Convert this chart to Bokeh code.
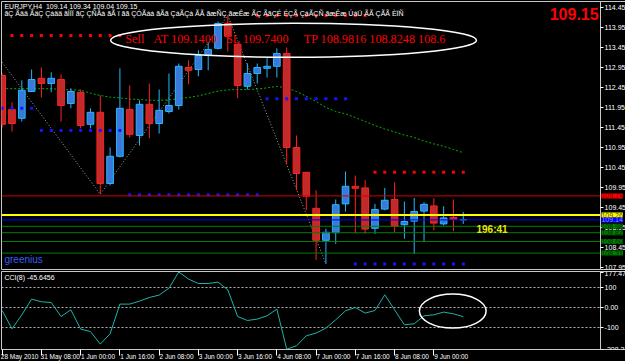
from bokeh.plotting import figure
from bokeh.models import Range1d, FixedTicker, Label, ColumnDataSource, GlobalInlineStyleSheet
from bokeh.layouts import column
from bokeh.embed import file_html
from bokeh.resources import INLINE

# ---------------- data ----------------
bars = list(range(48))
opens = [112.75, 111.90, 111.68, 112.35, 112.68, 112.55, 112.65, 112.05, 112.33, 111.53,
         111.83, 110.05, 110.73, 111.90, 111.25, 112.03, 111.55, 111.85, 112.00, 112.95,
         112.90, 113.25, 113.43, 114.05, 113.53, 112.48, 112.80, 112.93, 112.98, 113.30,
         110.95, 110.33, 109.43, 108.63, 108.82, 109.54, 109.98, 109.94, 108.93, 109.41,
         109.65, 109.02, 109.11, 109.36, 109.49, 109.04, 109.20, 109.14]
highs = [112.80, 112.08, 112.63, 112.90, 112.95, 112.83, 112.78, 112.43, 112.40, 111.93,
         112.25, 110.95, 112.93, 112.50, 112.13, 112.55, 112.40, 112.80, 113.05, 113.13,
         113.38, 113.58, 114.10, 114.25, 113.55, 113.05, 113.05, 113.18, 113.43, 113.45,
         111.25, 110.33, 109.88, 108.92, 109.65, 110.35, 110.25, 110.14, 109.54, 109.94,
         110.08, 109.60, 109.69, 109.58, 109.68, 109.48, 109.65, 109.34]
lows = [111.45, 111.35, 111.60, 112.35, 112.20, 112.33, 111.60, 111.93, 111.43, 111.43,
        109.78, 110.00, 110.70, 111.20, 111.00, 111.18, 111.30, 111.80, 111.90, 112.53,
        112.73, 112.88, 113.40, 113.35, 112.18, 112.40, 112.55, 112.70, 112.70, 110.53,
        109.88, 109.38, 108.14, 108.04, 108.54, 109.35, 108.80, 108.79, 108.79, 109.38,
        108.83, 108.67, 108.29, 108.58, 108.88, 109.00, 108.86, 109.04]
closes = [111.53, 111.55, 112.38, 112.65, 112.55, 112.68, 112.00, 112.35, 111.50, 111.83,
          110.05, 110.73, 111.93, 111.28, 112.03, 111.55, 111.88, 112.00, 112.98, 112.88,
          113.25, 113.40, 114.05, 113.73, 112.50, 112.80, 112.95, 112.98, 113.30, 110.95,
          110.30, 109.73, 108.63, 108.83, 109.52, 109.98, 109.93, 108.91, 109.40, 109.63,
          108.98, 109.10, 109.35, 109.53, 109.06, 109.19, 109.15, 109.15]
ma = [112.42, 112.42, 112.42, 112.42, 112.42, 112.42, 112.40, 112.39, 112.38, 112.31,
      112.25, 112.21, 112.19, 112.16, 112.15, 112.13, 112.13, 112.14, 112.17, 112.20,
      112.24, 112.30, 112.36, 112.39, 112.40, 112.40, 112.41, 112.44, 112.48, 112.44,
      112.35, 112.23, 112.10, 111.95, 111.85, 111.79, 111.70, 111.60, 111.50, 111.41,
      111.34, 111.26, 111.20, 111.11, 111.04, 110.98, 110.90, 110.82]
cci = [-15, -106.5, -36.5, 42, 28.5, 25, -45, -11.5, -108, -120,
       -183, -131.5, 17, 17, 32, 50, 62, 97, 177.47, 142,
       120, 120, 127, 88.5, -45, -65, -58, -41.5, -8, -208.32,
       -191.5, -141.5, -128, -103, -61.5, -16.5, 0, -28, -15, 63.5,
       -11.5, -86.5, -81.5, -41.5, -36.5, -23, -31.5, -45.65]

zigzag_bars = [0, 10, 23, 33]
zigzag_prices = [113.08, 109.78, 114.25, 108.04]

red_dot_groups = [(1, 12, 113.75), (26, 37, 114.25), (38, 47, 110.33)]
blue_dot_groups = [(0, 3, 111.93), (4, 12, 111.375), (13, 26, 109.77), (27, 35, 112.17), (36, 47, 108.04)]

level_prices = [109.74, 109.26, 109.14, 108.98, 108.82, 108.60, 108.31]
level_colors = ["#d00000", "#ffff00", "#0000ff", "#008000", "#008000", "#008000", "#008000"]
level_widths = [1, 2, 1, 1, 1, 1, 1]
level_box_text = ["#700000", "#505000", "#9090ff", "#002800", "#002800", "#002800", "#002800"]
level_box_fill = ["#ff0000", "#ffff00", "#0000ff", "#008000", "#008000", "#008000", "#008000"]

price_ticks = [107.95, 108.45, 108.95, 109.45, 109.95, 110.45, 110.95, 111.45, 111.95,
               112.45, 112.95, 113.45, 113.95, 114.45]
cci_ticks = [177.4727, 100, 0, -100, -208.319]
cci_tick_labels = ["177.4727", "100", "0.00", "-100", "-208.319"]
cci_levels = [100, 0, -100]
time_ticks = [0, 4, 8, 12, 16, 20, 24, 28, 32, 36, 40, 44]
time_labels = ["28 May 2010", "31 May 08:00", "1 Jun 00:00", "1 Jun 16:00", "2 Jun 08:00",
               "3 Jun 00:00", "3 Jun 16:00", "4 Jun 08:00", "7 Jun 00:00", "7 Jun 16:00",
               "8 Jun 08:00", "9 Jun 00:00"]

# ---------------- geometry helpers ----------------
FONT = "Liberation Sans"
X0 = -0.07            # left frame edge in bar units
BAR_PX = 9.81         # pixels per bar
FRAME_W = 625
X1 = X0 + FRAME_W / BAR_PX
AXIS_X = 61.0         # where the price scale sits (bar units)


def style_axis(a):
    a.axis_line_color = "#c8c8c8"
    a.major_tick_line_color = "white"
    a.major_tick_in = 0
    a.minor_tick_line_color = None
    a.major_label_text_color = "white"
    a.major_label_text_font_size = "7px"
    a.major_label_text_font = FONT


# ---------------- price panel ----------------
p = figure(frame_width=FRAME_W, frame_height=268, output_backend="svg", toolbar_location=None,
           x_range=Range1d(X0, X1), y_range=Range1d(107.9, 114.6),
           x_axis_location=None, y_axis_location="right",
           min_border_left=1, min_border_top=1, min_border_bottom=1, min_border_right=0,
           background_fill_color="black", border_fill_color="black",
           outline_line_color="#c8c8c8")
p.grid.visible = False
ax = p.yaxis[0]
style_axis(ax)
ax.fixed_location = AXIS_X
ax.ticker = FixedTicker(ticks=price_ticks)
ax.major_label_overrides = {t: f"{t:.2f}" for t in price_ticks}
ax.major_tick_out = 3
ax.major_label_standoff = 1

# moving average and zigzag
p.line(bars, ma, line_color="#00b000", line_dash="2 2", line_width=1)
p.line(zigzag_bars, zigzag_prices, line_color="#a0a0a0", line_dash="1 2", line_width=1)

# candles
bull = [i for i in bars if closes[i] >= opens[i]]
bear = [i for i in bars if closes[i] < opens[i]]
for idx, fill, edge in ((bull, "#3a78dc", "#22b8ff"), (bear, "#c02a2a", "#ff2020")):
    src = ColumnDataSource(dict(
        x=[bars[i] for i in idx],
        hi=[highs[i] for i in idx], lo=[lows[i] for i in idx],
        top=[max(opens[i], closes[i]) for i in idx],
        bot=[min(opens[i], closes[i]) for i in idx]))
    p.segment(x0="x", y0="hi", x1="x", y1="lo", source=src, line_color=edge, line_width=1)
    p.vbar(x="x", top="top", bottom="bot", width=0.68, source=src,
           fill_color=fill, line_color=edge, line_width=1)

# dots
for s, e, lvl in red_dot_groups:
    xs = list(range(s, e + 1))
    p.scatter(xs, [lvl] * len(xs), marker="square", size=3, fill_color="#ff0000", line_color=None)
for s, e, lvl in blue_dot_groups:
    xs = list(range(s, e + 1))
    p.scatter(xs, [lvl] * len(xs), marker="square", size=3, fill_color="#1414ff", line_color=None)

# horizontal levels (up to the price scale) and their price tags
n = len(level_prices)
p.segment(x0=[X0] * n, x1=[AXIS_X] * n, y0=level_prices, y1=level_prices,
          line_color=level_colors, line_width=level_widths)
for lvl, bf, tc in zip(level_prices, level_box_fill, level_box_text):
    p.add_layout(Label(x=AXIS_X + 0.09, y=lvl, text=f"{lvl:.2f}", text_font_size="7px", text_font=FONT,
                       text_color=tc, text_baseline="middle", background_fill_color=bf))

# ellipse & texts
p.ellipse(x=[29.7], y=[113.63], width=37.3, height=0.85, fill_alpha=0,
          line_color="white", line_width=1.5)
NB = "\u00a0"
sell_text = ("Sell" + NB * 3 + "AT 109.1400" + NB * 3 + "SL 109.7400" + NB * 5 +
             "TP 108.9816 108.8248 108.6")
p.add_layout(Label(x=12.55, y=113.66, text=sell_text,
                   text_font="Liberation Serif", text_font_size="12.2px", text_color="#ff0000",
                   text_baseline="middle"))
p.add_layout(Label(x=0.23, y=114.47, text="EURJPY,H4  109.14 109.34 109.04 109.15".replace("  ", NB * 2),
                   text_font=FONT, text_font_size="7px", text_color="white", text_baseline="middle"))
p.add_layout(Label(x=0.23, y=114.30,
                   text="ãÇ Ãää ÃäÇ Çáää ãÌÏÏ ãÇ ÇÑÅá ãÃ ï ãã ÇÓÃáá ãÃã ÇáÃÇá ÃÃ ãæÑÇ ãæÊæ ÃÇ ÃãÇÉ ÉÇÃ ÇáÃÇÑ ãæÊæ ÚáÜ ÃÃ ÇÃÃ ÈÏÑ",
                   text_font=FONT, text_font_size="7px", text_color="white", text_baseline="middle"))
p.add_layout(Label(x=60.8, y=114.28, text="109.15", text_font=FONT, text_font_size="16px",
                   text_font_style="bold", text_color="#ff0000", text_align="right",
                   text_baseline="middle"))
p.add_layout(Label(x=48.35, y=108.9, text="196:41", text_font=FONT, text_font_size="10px",
                   text_font_style="bold", text_color="#e8e800", text_baseline="middle"))
p.add_layout(Label(x=0.23, y=108.15, text="greenius", text_font=FONT, text_font_size="10px",
                   text_color="#3a5cf0", text_baseline="middle"))

# ---------------- CCI panel ----------------
q = figure(frame_width=FRAME_W, frame_height=78, output_backend="svg", toolbar_location=None,
           x_range=p.x_range, y_range=Range1d(-210, 180),
           x_axis_location="below", y_axis_location="right",
           min_border_left=1, min_border_top=1, min_border_bottom=0, min_border_right=0,
           background_fill_color="black", border_fill_color="black",
           outline_line_color="#c8c8c8")
q.grid.visible = False
ay = q.yaxis[0]
style_axis(ay)
ay.fixed_location = AXIS_X
ay.ticker = FixedTicker(ticks=cci_ticks)
ay.major_label_overrides = dict(zip(cci_ticks, cci_tick_labels))
ay.major_tick_out = 3
ay.major_label_standoff = 1

# time axis: labels start at their tick (MT4 style) -> label centres shifted right,
# tick marks drawn as minor ticks exactly at the bars
bx = q.xaxis[0]
style_axis(bx)
bx.major_label_text_font_size = "6.5px"
label_pos = [t + (len(lab) * 1.4 + 2) / BAR_PX for t, lab in zip(time_ticks, time_labels)]
bx.ticker = FixedTicker(ticks=label_pos, minor_ticks=time_ticks)
bx.major_label_overrides = dict(zip(label_pos, time_labels))
bx.major_tick_line_color = None
bx.major_tick_out = 0
bx.minor_tick_line_color = "white"
bx.minor_tick_out = 6
bx.minor_tick_in = 0
bx.major_label_standoff = -3
bx.axis_line_color = None

nl = len(cci_levels)
q.segment(x0=[X0] * nl, x1=[AXIS_X] * nl, y0=cci_levels, y1=cci_levels,
          line_color="#b4b4b4", line_dash="2 2", line_width=1)
q.line(bars, cci, line_color="#20b2aa", line_width=1)
q.ellipse(x=[45.93], y=[-18], width=6.8, height=170, fill_alpha=0, line_color="white", line_width=1.5)
q.add_layout(Label(x=0.23, y=148, text="CCI(8) -45.6456", text_font=FONT, text_font_size="7px",
                   text_color="white", text_baseline="middle"))

layout = column(p, q, spacing=0,
                stylesheets=[GlobalInlineStyleSheet(css="html, body { margin: 0; overflow: hidden; background: #000; }")])
open("out.html", "w").write(file_html(layout, INLINE))
